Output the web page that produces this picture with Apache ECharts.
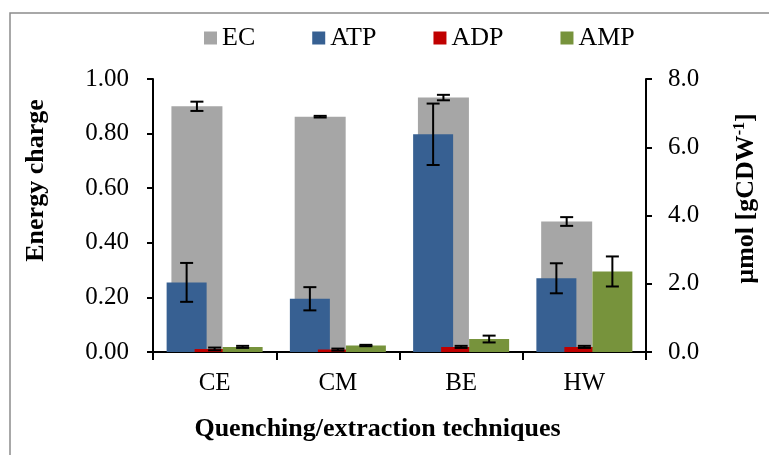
<!DOCTYPE html>
<html>
<head>
<meta charset="utf-8">
<script src="https://cdn.jsdelivr.net/npm/echarts@6/dist/echarts.min.js"></script>
<style>
  html, body { margin: 0; padding: 0; background: #fff; }
  #chart { width: 769px; height: 455px; }
</style>
</head>
<body>
<div id="chart"></div>
<script>
// Quenching / extraction techniques
const categories = ['CE', 'CM', 'BE', 'HW'];

// Energy charge (left axis)
const ecValues = [0.90, 0.862, 0.932, 0.478];
const ecErr = [0.017, 0.003, 0.010, 0.016];

// Nucleotide amounts, µmol per gCDW (right axis)
const atpValues = [2.04, 1.56, 6.38, 2.16];
const atpErr = [0.57, 0.34, 0.90, 0.44];
const adpValues = [0.09, 0.07, 0.15, 0.15];
const adpErr = [0.04, 0.03, 0.03, 0.03];
const ampValues = [0.15, 0.19, 0.38, 2.36];
const ampErr = [0.03, 0.02, 0.10, 0.44];

// Axis ticks
const leftTicks = { min: 0, max: 1, interval: 0.2 };
const rightTicks = { min: 0, max: 8, interval: 2 };

const FONT = 'Liberation Serif';
const BAR_W = 40;            // nucleotide bar width
const BAR_GAP = -0.3;        // overlap between nucleotide bars
const STEP = BAR_W * (1 + BAR_GAP);
const EC_SHIFT = 17.7;       // energy-charge bars sit left of centre
const G = { left: 153, right: 123, top: 79, bottom: 103 };

const chart = echarts.init(document.getElementById('chart'), null, { renderer: 'canvas' });

function errorSeries(name, values, errs, xIdx, yIdx, offset) {
  return {
    type: 'custom',
    name: name + ' error',
    xAxisIndex: xIdx,
    yAxisIndex: yIdx,
    z: 10,
    silent: true,
    encode: { x: 0, y: [1, 2] },
    data: values.map((v, i) => [i, v - errs[i], v + errs[i]]),
    renderItem(params, api) {
      const lo = api.coord([api.value(0), api.value(1)]);
      const hi = api.coord([api.value(0), api.value(2)]);
      const x = lo[0] + offset;
      const cap = 6.5;
      const style = { stroke: '#000', lineWidth: 2 };
      return {
        type: 'group',
        children: [
          { type: 'line', shape: { x1: x, y1: lo[1], x2: x, y2: hi[1] }, style },
          { type: 'line', shape: { x1: x - cap, y1: lo[1], x2: x + cap, y2: lo[1] }, style },
          { type: 'line', shape: { x1: x - cap, y1: hi[1], x2: x + cap, y2: hi[1] }, style }
        ]
      };
    }
  };
}

const axisLineStyle = { lineStyle: { color: '#000', width: 2 } };
const labelStyle = { color: '#000', fontFamily: FONT, fontSize: 25 };

const option = {
  backgroundColor: '#fff',
  animation: false,
  graphic: [{
    type: 'rect',
    shape: { x: 10, y: 13, width: 800, height: 500 },
    style: { fill: 'none', stroke: '#8c8c8c', lineWidth: 1.5 },
    silent: true,
    z: -1
  }],
  legend: {
    data: ['EC', 'ATP', 'ADP', 'AMP'],
    left: 204,
    top: 25,
    padding: 0,
    itemWidth: 13,
    itemHeight: 13,
    itemGap: 57,
    icon: 'rect',
    textStyle: { color: '#000', fontFamily: FONT, fontSize: 26 }
  },
  grid: [
    { left: G.left, right: G.right, top: G.top, bottom: G.bottom },
    { left: G.left - EC_SHIFT, right: G.right + EC_SHIFT, top: G.top, bottom: G.bottom }
  ],
  xAxis: [
    {
      type: 'category', gridIndex: 0, data: categories,
      axisLine: axisLineStyle,
      axisTick: { show: true, length: 8, lineStyle: { color: '#000', width: 2 } },
      axisLabel: Object.assign({ margin: 19 }, labelStyle),
      name: 'Quenching/extraction techniques',
      nameLocation: 'middle',
      nameGap: 64,
      nameTextStyle: { color: '#000', fontFamily: FONT, fontSize: 26, fontWeight: 'bold', padding: [0, 44, 0, 0] }
    },
    {
      type: 'category', gridIndex: 0, data: categories,
      axisLine: { show: false },
      axisTick: { show: true, inside: true, length: 8, lineStyle: { color: '#000', width: 2 } },
      axisLabel: { show: false }
    },
    { type: 'category', gridIndex: 1, data: categories, show: false }
  ],
  yAxis: [
    {
      type: 'value', gridIndex: 0, position: 'left',
      min: leftTicks.min, max: leftTicks.max, interval: leftTicks.interval,
      axisLine: Object.assign({ show: true }, axisLineStyle),
      axisTick: { show: true, length: 6, lineStyle: { color: '#000', width: 2 } },
      splitLine: { show: false },
      axisLabel: Object.assign({ margin: 24, formatter: v => v.toFixed(2) }, labelStyle),
      name: 'Energy charge',
      nameLocation: 'middle',
      nameGap: 104,
      nameTextStyle: { color: '#000', fontFamily: FONT, fontSize: 26, fontWeight: 'bold', padding: [0, 0, 0, 70] }
    },
    {
      type: 'value', gridIndex: 0, position: 'right',
      min: rightTicks.min, max: rightTicks.max, interval: rightTicks.interval,
      axisLine: Object.assign({ show: true }, axisLineStyle),
      axisTick: { show: true, length: 6, lineStyle: { color: '#000', width: 2 } },
      splitLine: { show: false },
      axisLabel: Object.assign({ margin: 22, formatter: v => v.toFixed(1) }, labelStyle),
      name: '{a|µmol [gCDW}{s|-1}{a|]}',
      nameLocation: 'middle',
      nameGap: 86,
      nameTextStyle: {
        color: '#000', fontFamily: FONT, fontSize: 26, fontWeight: 'bold', padding: [0, 0, 0, 34],
        rich: {
          a: { fontFamily: FONT, fontSize: 26, fontWeight: 'bold', color: '#000', lineHeight: 28 },
          s: { fontFamily: FONT, fontSize: 16, fontWeight: 'bold', color: '#000', verticalAlign: 'top', lineHeight: 28 }
        }
      }
    },
    { type: 'value', gridIndex: 1, min: leftTicks.min, max: leftTicks.max, show: false }
  ],
  series: [
    {
      name: 'EC', type: 'bar', xAxisIndex: 2, yAxisIndex: 2, z: 1,
      barWidth: 51, itemStyle: { color: '#a6a6a6' }, data: ecValues
    },
    {
      name: 'ATP', type: 'bar', xAxisIndex: 0, yAxisIndex: 1, z: 2,
      barWidth: BAR_W, barGap: (BAR_GAP * 100) + '%', itemStyle: { color: '#376092' }, data: atpValues
    },
    {
      name: 'ADP', type: 'bar', xAxisIndex: 0, yAxisIndex: 1, z: 2,
      barWidth: BAR_W, barGap: (BAR_GAP * 100) + '%', itemStyle: { color: '#c00000' }, data: adpValues
    },
    {
      name: 'AMP', type: 'bar', xAxisIndex: 0, yAxisIndex: 1, z: 2,
      barWidth: BAR_W, barGap: (BAR_GAP * 100) + '%', itemStyle: { color: '#77933c' }, data: ampValues
    },
    errorSeries('EC', ecValues, ecErr, 2, 2, 0),
    errorSeries('ATP', atpValues, atpErr, 0, 1, -STEP),
    errorSeries('ADP', adpValues, adpErr, 0, 1, 0),
    errorSeries('AMP', ampValues, ampErr, 0, 1, STEP)
  ]
};

chart.setOption(option);
</script>
</body>
</html>
